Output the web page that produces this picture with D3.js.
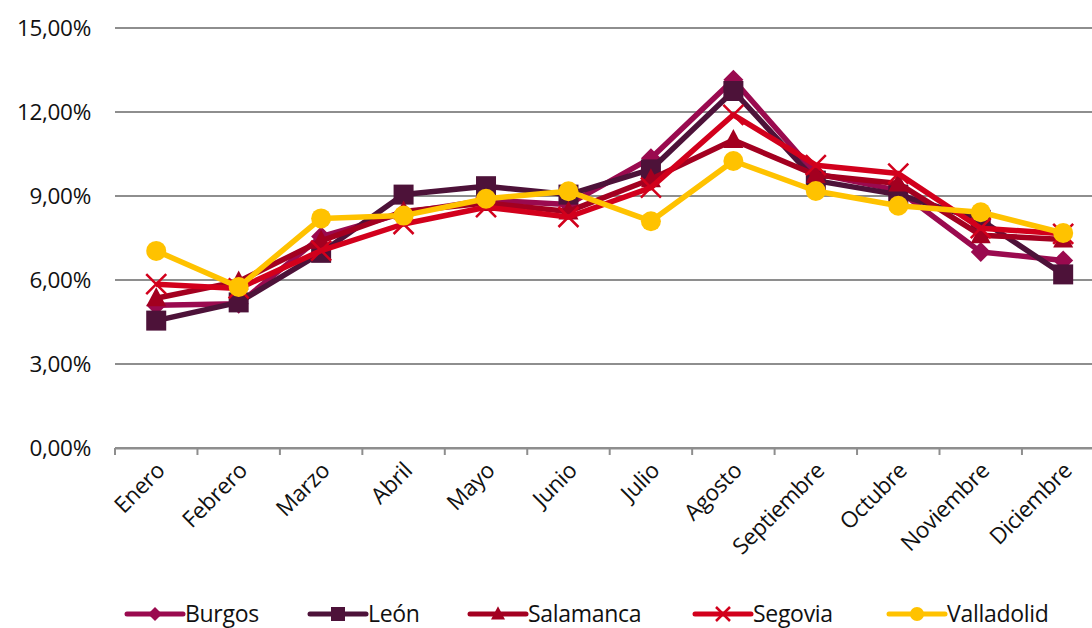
<!DOCTYPE html>
<html>
<head>
<meta charset="utf-8">
<script src="https://cdn.jsdelivr.net/npm/d3@7"></script>
<style>
  body { margin: 0; background: #fff; }
  svg text { font-family: "Open Sans", "Noto Sans", sans-serif; fill: #111; }
</style>
</head>
<body>
<svg id="chart" width="1092" height="628"></svg>
<script>
const months = ['Enero', 'Febrero', 'Marzo', 'Abril', 'Mayo', 'Junio', 'Julio',
  'Agosto', 'Septiembre', 'Octubre', 'Noviembre', 'Diciembre'];
const yTicks = [0, 3, 6, 9, 12, 15];

const burgos     = [5.1, 5.15, 7.55, 8.4, 8.85, 8.7, 10.35, 13.15, 9.8, 9.2, 7.0, 6.7];
const leon       = [4.55, 5.2, 6.97, 9.05, 9.35, 9.05, 9.95, 12.75, 9.55, 9.05, 8.15, 6.2];
const salamanca  = [5.35, 5.95, 7.4, 8.45, 8.75, 8.45, 9.6, 11.0, 9.75, 9.45, 7.6, 7.45];
const segovia    = [5.85, 5.7, 7.05, 8.0, 8.6, 8.25, 9.3, 11.9, 10.1, 9.8, 7.85, 7.65];
const valladolid = [7.04, 5.75, 8.2, 8.3, 8.9, 9.17, 8.1, 10.25, 9.18, 8.65, 8.42, 7.68];

const series = [
  { name: 'Burgos', values: burgos, color: '#9A0A4F', symbol: 'diamond' },
  { name: 'León', values: leon, color: '#4D1239', symbol: 'square' },
  { name: 'Salamanca', values: salamanca, color: '#A30020', symbol: 'triangle' },
  { name: 'Segovia', values: segovia, color: '#D2001C', symbol: 'cross' },
  { name: 'Valladolid', values: valladolid, color: '#FFC200', symbol: 'circle' }
];

const svg = d3.select('#chart');
const left = 115, bandW = 82.45;
const x = d3.scaleBand().domain(months).range([left, left + bandW * months.length]);
const y = d3.scaleLinear().domain([0, 15]).range([448, 28]);

const fmt = v => d3.format('.2f')(v).replace('.', ',') + '%';

// grid lines
svg.append('g')
  .selectAll('line')
  .data(yTicks)
  .join('line')
  .attr('x1', left)
  .attr('x2', 1092)
  .attr('y1', d => y(d))
  .attr('y2', d => y(d))
  .attr('stroke', '#8e8e8e')
  .attr('stroke-width', 2);

// y labels
svg.append('g')
  .selectAll('text')
  .data(yTicks)
  .join('text')
  .attr('x', 91)
  .attr('y', d => y(d) + 8)
  .attr('text-anchor', 'end')
  .attr('font-size', 22.5)
  .attr('letter-spacing', -0.3)
  .text(fmt);

// x axis
const xAxis = svg.append('g')
  .attr('transform', `translate(0,${y(0)})`)
  .call(d3.axisBottom(x).tickSize(0).tickFormat(''));
xAxis.select('.domain').attr('stroke', '#8e8e8e').attr('stroke-width', 2);

svg.append('g')
  .selectAll('line')
  .data(d3.range(months.length + 1))
  .join('line')
  .attr('x1', i => left + i * bandW)
  .attr('x2', i => left + i * bandW)
  .attr('y1', y(0))
  .attr('y2', y(0) + 7)
  .attr('stroke', '#8e8e8e')
  .attr('stroke-width', 2);

svg.append('g')
  .selectAll('text')
  .data(months)
  .join('text')
  .attr('transform', d => `translate(${x(d) + x.bandwidth() / 2 + 10},${y(0) + 24}) rotate(-45)`)
  .attr('text-anchor', 'end')
  .attr('font-size', 22.5)
  .attr('letter-spacing', -0.3)
  .text(d => d);

// markers
function drawMarker(g, type, color, s) {
  if (type === 'diamond') {
    g.append('path').attr('d', `M0,${-s}L${s},0L0,${s}L${-s},0Z`).attr('fill', color);
  } else if (type === 'square') {
    g.append('rect').attr('x', -s).attr('y', -s).attr('width', 2 * s).attr('height', 2 * s).attr('fill', color);
  } else if (type === 'triangle') {
    g.append('path').attr('d', `M0,${-s * 1.1}L${s},${s * 0.8}L${-s},${s * 0.8}Z`).attr('fill', color);
  } else if (type === 'cross') {
    g.append('path').attr('d', `M${-s},${-s}L${s},${s}M${s},${-s}L${-s},${s}`)
      .attr('stroke', color).attr('stroke-width', 2.5).attr('fill', 'none');
  } else {
    g.append('circle').attr('r', s).attr('fill', color);
  }
}

const line = d3.line()
  .x((d, i) => x(months[i]) + x.bandwidth() / 2)
  .y(d => y(d));

series.forEach(s => {
  const g = svg.append('g');
  g.append('path')
    .attr('d', line(s.values))
    .attr('fill', 'none')
    .attr('stroke', s.color)
    .attr('stroke-width', 5.5)
    .attr('stroke-linejoin', 'round');
  s.values.forEach((v, i) => {
    const m = g.append('g')
      .attr('transform', `translate(${x(months[i]) + x.bandwidth() / 2},${y(v)})`);
    drawMarker(m, s.symbol, s.color, 10);
  });
});

// legend
const legendX = [127, 310, 470, 695, 889];
const legend = svg.append('g');
series.forEach((s, i) => {
  const g = legend.append('g').attr('transform', `translate(${legendX[i]},614)`);
  g.append('line')
    .attr('x1', 0).attr('x2', 56)
    .attr('stroke', s.color).attr('stroke-width', 5)
    .attr('stroke-linecap', 'round');
  const m = g.append('g').attr('transform', 'translate(28,0)');
  drawMarker(m, s.symbol, s.color, 7);
  g.append('text')
    .attr('x', 58)
    .attr('y', 8)
    .attr('font-size', 23)
    .attr('letter-spacing', -0.3)
    .text(s.name);
});
</script>
</body>
</html>
